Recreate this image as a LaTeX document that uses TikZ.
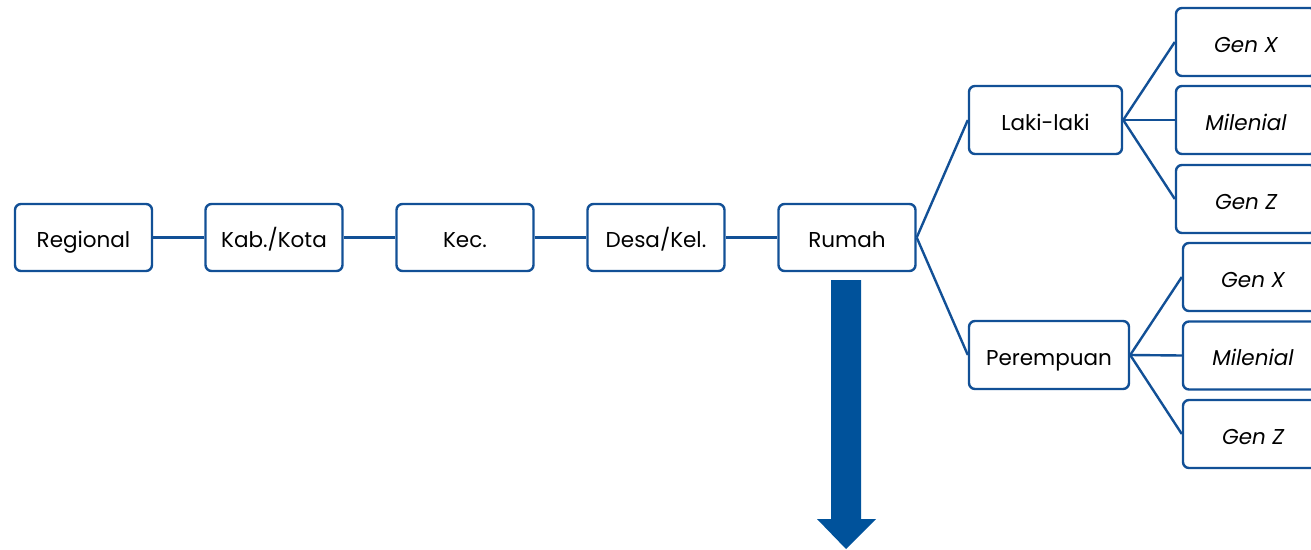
\documentclass[tikz,border=0pt]{standalone}
\usepackage{fontspec}
\setmainfont{Poppins}
\definecolor{bpsblue}{RGB}{18,80,150}
\definecolor{arrowblue}{RGB}{0,82,155}
\begin{document}
\begin{tikzpicture}[x=1pt,y=-1pt,
  box/.style={draw=bpsblue, line width=2.4pt, rounded corners=6pt, fill=white,
    minimum width=137pt, minimum height=67pt, inner sep=0pt, text height=24pt, text depth=4pt,
    font=\fontsize{21.5}{24}\selectfont},
  gen/.style={box, font=\fontsize{21.5}{24}\selectfont\itshape},
  link/.style={draw=bpsblue, line width=2.4pt}]
\useasboundingbox (0,0) rectangle (1311,549);
\clip (0,0) rectangle (1311,549);
% main chain
\node[box] (reg) at (83.5,237.5) {Regional};
\node[box] (kab) at (274,237.5) {Kab./Kota};
\node[box] (kec) at (465,237.5) {Kec.};
\node[box] (desa) at (656,237.5) {Desa/Kel.};
\node[box] (rum) at (847,237.5) {Rumah};
% gender
\node[box, minimum width=153pt, minimum height=68pt] (laki) at (1045.5,120) {Laki-laki};
\node[box, minimum width=160pt, minimum height=68pt] (per) at (1049,355) {Perempuan};
% generations (male)
\node[gen, minimum width=140pt, minimum height=68pt] (gx1) at (1246,42) {Gen X};
\node[gen, minimum width=140pt, minimum height=68pt] (gm1) at (1246,120) {Milenial};
\node[gen, minimum width=140pt, minimum height=68pt] (gz1) at (1246,199) {Gen Z};
% generations (female)
\node[gen, minimum width=140pt, minimum height=68pt] (gx2) at (1253,277) {Gen X};
\node[gen, minimum width=140pt, minimum height=68pt] (gm2) at (1253,355.5) {Milenial};
\node[gen, minimum width=140pt, minimum height=68pt] (gz2) at (1253,434) {Gen Z};
% connectors
\draw[link] (reg.east) -- (kab.west);
\draw[link] (kab.east) -- (kec.west);
\draw[link] (kec.east) -- (desa.west);
\draw[link] (desa.east) -- (rum.west);
\draw[link] (rum.east) -- (laki.west);
\draw[link] (rum.east) -- (per.west);
\draw[link] (laki.east) -- (gx1.west);
\draw[link] (laki.east) -- (gm1.west);
\draw[link] (laki.east) -- (gz1.west);
\draw[link] (per.east) -- (gx2.west);
\draw[link] (per.east) -- (gm2.west);
\draw[link] (per.east) -- (gz2.west);
% big arrow
\fill[arrowblue] (831,280) -- (861,280) -- (861,519) -- (876,519) -- (846,549) -- (817,519) -- (831,519) -- cycle;
\end{tikzpicture}
\end{document}
